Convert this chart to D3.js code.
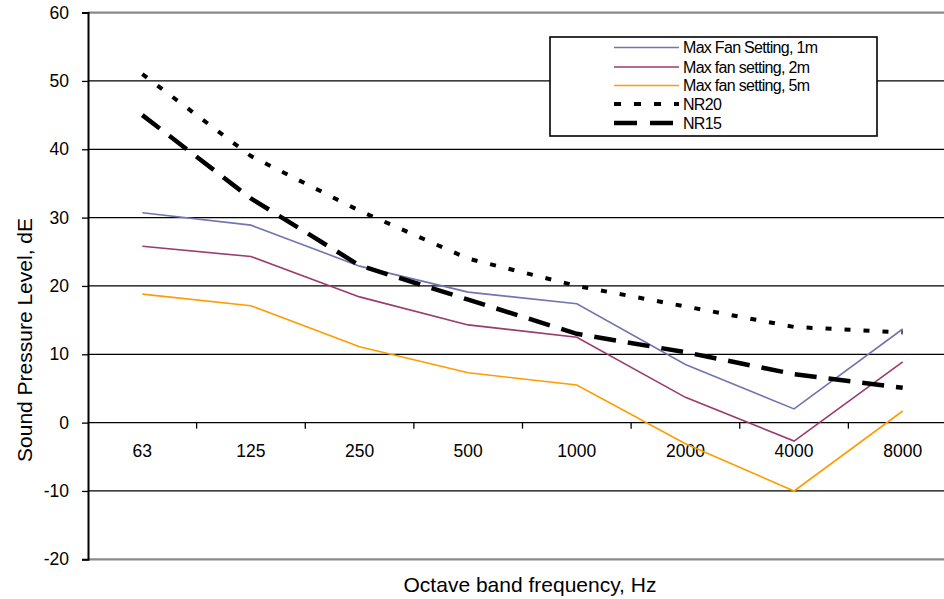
<!DOCTYPE html>
<meta charset="utf-8">
<style>
body {margin: 0; background: #fff;}
text {font-family: "Liberation Sans", Arial, sans-serif; fill: #000;}
.tick text {font-size: 17.5px;}
.legend text {font-size: 16px; letter-spacing: -0.7px;}
</style>
<body>
<script src="https://d3js.org/d3.v7.min.js"></script>
<div id="chart"></div>
<script>
// data
var bands = ["63", "125", "250", "500", "1000", "2000", "4000", "8000"];
var fan1m = [30.7, 28.9, 22.9, 19.1, 17.4, 8.5, 2.0, 13.7];
var fan2m = [25.8, 24.3, 18.4, 14.3, 12.5, 3.7, -2.7, 8.9];
var fan5m = [18.8, 17.1, 11.1, 7.3, 5.5, -3.1, -10.0, 1.7];
var nr20 = [51, 39, 31, 24, 20, 17, 14, 13.2];
var nr15 = [45, 32.8, 23, 18, 13, 10.3, 7.1, 5.1];
var yTicks = [-20, -10, 0, 10, 20, 30, 40, 50, 60];

var series = [
  {name: "Max Fan Setting, 1m", values: fan1m, color: "#7474ae", width: 1.6, dash: null},
  {name: "Max fan setting, 2m", values: fan2m, color: "#9b3a6c", width: 1.6, dash: null},
  {name: "Max fan setting, 5m", values: fan5m, color: "#ff9c00", width: 1.6, dash: null},
  {name: "NR20", values: nr20, color: "#000", width: 4, dash: "6,13"},
  {name: "NR15", values: nr15, color: "#000", width: 4.5, dash: "22,12"}
];

var width = 944, height = 599;
var plotLeft = 88, plotRight = 957, plotTop = 12.6, plotBottom = 559.3;

var x = d3.scaleBand().domain(bands).range([plotLeft, plotRight]).padding(0);
var y = d3.scaleLinear().domain([-20, 60]).range([plotBottom, plotTop]);

var svg = d3.select("#chart").append("svg")
    .attr("width", width)
    .attr("height", height);

// grid lines
svg.append("g").selectAll("line")
  .data(yTicks)
  .enter().append("line")
    .attr("x1", plotLeft).attr("x2", width)
    .attr("y1", function(d) { return y(d); })
    .attr("y2", function(d) { return y(d); })
    .attr("stroke", function(d) { return (d == 60 || d == -20) ? "#8a8a8a" : "#000"; })
    .attr("stroke-width", function(d) { return (d == 60 || d == -20) ? 2.2 : 1.3; });

// y axis
var yAxis = svg.append("g")
    .attr("transform", "translate(" + plotLeft + ",0)")
    .call(d3.axisLeft(y).tickValues(yTicks).tickSize(6).tickPadding(13)
      .tickFormat(function(d) { return String(d); }));
yAxis.attr("font-family", null).attr("font-size", null);
yAxis.select(".domain").attr("stroke-width", 2);
yAxis.selectAll(".tick line").attr("stroke-width", 1.3);

// category axis on the zero line: ticks at band edges, labels in the middle
var zeroY = y(0);
svg.append("g").selectAll("line")
  .data(bands.slice(1))
  .enter().append("line")
    .attr("x1", function(d) { return x(d); })
    .attr("x2", function(d) { return x(d); })
    .attr("y1", zeroY).attr("y2", zeroY + 6)
    .attr("stroke", "#000").attr("stroke-width", 1.3);

svg.append("g").attr("class", "tick").selectAll("text")
  .data(bands)
  .enter().append("text")
    .attr("x", function(d) { return x(d) + x.bandwidth() / 2; })
    .attr("y", zeroY + 34)
    .attr("text-anchor", "middle")
    .text(function(d) { return d; });

// series lines
var line = d3.line()
    .x(function(d, i) { return x(bands[i]) + x.bandwidth() / 2; })
    .y(function(d) { return y(d); });

svg.append("g").selectAll("path")
  .data(series)
  .enter().append("path")
    .attr("d", function(s) { return line(s.values); })
    .attr("fill", "none")
    .attr("stroke", function(s) { return s.color; })
    .attr("stroke-width", function(s) { return s.width; })
    .attr("stroke-dasharray", function(s) { return s.dash; });

// axis titles
svg.append("text")
    .attr("x", 530).attr("y", 592)
    .attr("text-anchor", "middle")
    .style("font-size", "21px")
    .text("Octave band frequency, Hz");

svg.append("text")
    .attr("transform", "translate(32,340) rotate(-90)")
    .attr("text-anchor", "middle")
    .style("font-size", "21px")
    .text("Sound Pressure Level, dE");

// legend
var lg = svg.append("g").attr("class", "legend");
lg.append("rect")
    .attr("x", 550).attr("y", 37)
    .attr("width", 327).attr("height", 99)
    .attr("fill", "#fff").attr("stroke", "#000").attr("stroke-width", 1.6);

var rows = [47.5, 67, 85.5, 104, 123];
var item = lg.selectAll("g.item")
  .data(series)
  .enter().append("g").attr("class", "item")
    .attr("transform", function(d, i) { return "translate(0," + rows[i] + ")"; });
item.append("line")
    .attr("x1", 614).attr("x2", 679)
    .attr("stroke", function(s) { return s.color; })
    .attr("stroke-width", function(s) { return s.width; })
    .attr("stroke-dasharray", function(s, i) { return i == 3 ? "7,13" : (i == 4 ? "23,13" : null); });
item.append("text")
    .attr("x", 683).attr("y", 5.5)
    .text(function(s) { return s.name; });
</script>
</body>
